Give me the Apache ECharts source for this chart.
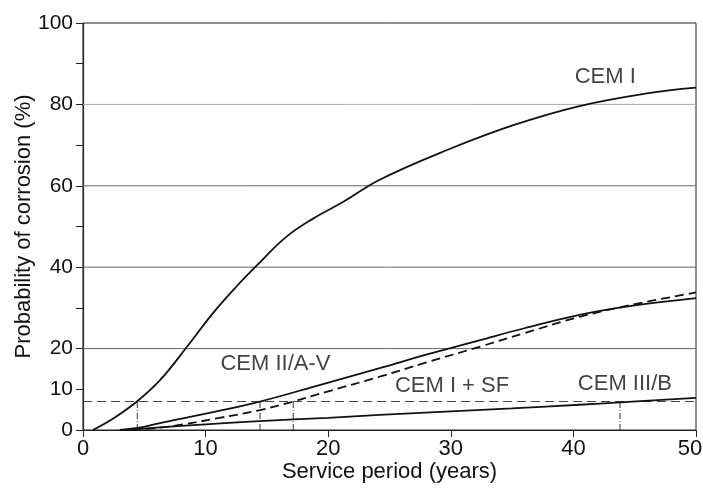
<!DOCTYPE html>
<html>
<head>
<meta charset="utf-8">
<script src="https://cdn.jsdelivr.net/npm/echarts@6/dist/echarts.min.js"></script>
<style>
html,body{margin:0;padding:0;background:#fff;}
#c{width:703px;height:491px;}
</style>
</head>
<body>
<div id="c"></div>
<script>
// Data
const cemIx = [0.8, 2.5, 4.4, 6.3, 8.5, 10.6, 12.5, 14.2, 16.6, 18.8, 21.2, 24.2, 29.7, 35.1, 40.5, 46, 50];
const cemIy = [0, 2.9, 7, 12.3, 20.5, 28.7, 35.2, 40.5, 47.5, 52, 56, 61.5, 68.8, 74.9, 79.6, 82.7, 84.1];

const cemIIx = [3, 4.43, 6.3, 10, 14.44, 19, 24.2, 28, 32.4, 36, 40.5, 45, 50];
const cemIIy = [0, 0.5, 1.7, 4, 7, 10.8, 15.2, 18.5, 22.1, 25, 28.3, 30.6, 32.4];

const cemSFx = [4, 6, 8, 11, 14.44, 17.15, 20, 24.2, 28, 32.4, 36, 40.5, 45, 50];
const cemSFy = [0, 0.5, 1.3, 2.9, 4.9, 7, 9.5, 13.1, 16.6, 20.5, 23.8, 27.8, 30.9, 33.8];

const cemIIIx = [3.5, 6, 10, 14.4, 20, 24.2, 30, 35, 40.5, 43.8, 50];
const cemIIIy = [0, 0.6, 1.4, 2.2, 3.0, 3.7, 4.6, 5.3, 6.2, 6.8, 7.9];

const thresholdY = 7;
const crossX = [4.43, 14.44, 17.15, 43.8];

const xTicks = [0, 10, 20, 30, 40, 50];
const yTickLabels = [0, 10, 20, 40, 60, 80, 100];
const gridValues = [20, 40, 60, 80];

const curveLabels = [
  {name: 'CEM I', x: 42.6, y: 86.7},
  {name: 'CEM II/A-V', x: 15.7, y: 16.3},
  {name: 'CEM I + SF', x: 30.1, y: 10.8},
  {name: 'CEM III/B', x: 44.2, y: 11.4}
];

function pairs(xs, ys){ return xs.map((x,i)=>[x, ys[i]]); }

const FONT = '"Liberation Sans", Arial, sans-serif';
const TXT = '#111';

const chart = echarts.init(document.getElementById('c'), null, {renderer:'canvas'});

const dashLine = {
  type: 'line', symbol:'none', silent:true,
  data: [[0, thresholdY],[50, thresholdY]],
  lineStyle:{color:'#444', width:1.2, type:[9,5]}, z:1
};

const vertSeries = crossX.map(x => ({
  type:'line', symbol:'none', silent:true,
  data: [[x,0],[x,thresholdY]],
  lineStyle:{color:'#333', width:1, type:[6,2,1,2]}, z:1
}));

const gridSeries = gridValues.map(v => ({
  type:'line', symbol:'none', silent:true,
  data: [[0,v],[50,v]],
  lineStyle:{color: v===80 ? '#aaa' : '#666', width:1}, z:0
}));

const curveStyle = {color:'#111', width:1.8};
const maxX = xTicks[xTicks.length - 1];

chart.setOption({
  animation:false,
  backgroundColor:'#fff',
  grid:{left:83, right:7, top:23, bottom:61, outerBoundsMode:'none', containLabel:false,
        show:true, borderColor:'#222', borderWidth:1},
  xAxis:{
    type:'value', min:0, max:50, interval:10,
    name:'Service period (years)', nameLocation:'middle', nameGap:31, nameMoveOverlap:false,
    nameTextStyle:{fontFamily:FONT, fontSize:22, color:TXT},
    axisLine:{show:true, lineStyle:{color:'#222', width:1.2}},
    axisTick:{show:true, inside:false, length:7, lineStyle:{color:'#222'}},
    axisLabel:{fontFamily:FONT, fontSize:22, color:TXT, margin:8,
      formatter: v => xTicks.includes(v) ? (v === maxX ? '{e|' + v + '}' : String(v)) : '',
      rich:{e:{fontFamily:FONT, fontSize:22, color:TXT, padding:[0,12,0,0]}}},
    splitLine:{show:false}
  },
  yAxis:{
    type:'value', min:0, max:100, interval:10,
    name:'Probability of corrosion (%)', nameLocation:'middle', nameGap:48, nameMoveOverlap:false,
    nameTextStyle:{fontFamily:FONT, fontSize:22, color:TXT},
    axisLine:{show:true, lineStyle:{color:'#222', width:1.2}},
    axisTick:{show:true, inside:false, length:7, lineStyle:{color:'#222'}},
    axisLabel:{fontFamily:FONT, fontSize:21, color:TXT, margin:10,
      formatter: v => yTickLabels.includes(v) ? String(v) : ''},
    splitLine:{show:false}
  },
  series: [
    ...gridSeries,
    dashLine,
    ...vertSeries,
    {name:'CEM I', type:'line', symbol:'none', smooth:0.4, data:pairs(cemIx, cemIy), lineStyle:curveStyle, z:3},
    {name:'CEM II/A-V', type:'line', symbol:'none', smooth:0.4, data:pairs(cemIIx, cemIIy), lineStyle:curveStyle, z:3},
    {name:'CEM I + SF', type:'line', symbol:'none', smooth:0.4, data:pairs(cemSFx, cemSFy), lineStyle:{color:'#111', width:1.8, type:[9,5]}, z:3},
    {name:'CEM III/B', type:'line', symbol:'none', smooth:0.4, data:pairs(cemIIIx, cemIIIy), lineStyle:curveStyle, z:3},
    {
      type:'scatter', symbolSize:0, silent:true, z:4,
      data: curveLabels.map(l => ({name:l.name, value:[l.x, l.y]})),
      label:{show:true, position:'inside', formatter: p => p.name,
        fontFamily:FONT, fontSize:22, color:TXT}
    }
  ]
});
</script>
</body>
</html>
